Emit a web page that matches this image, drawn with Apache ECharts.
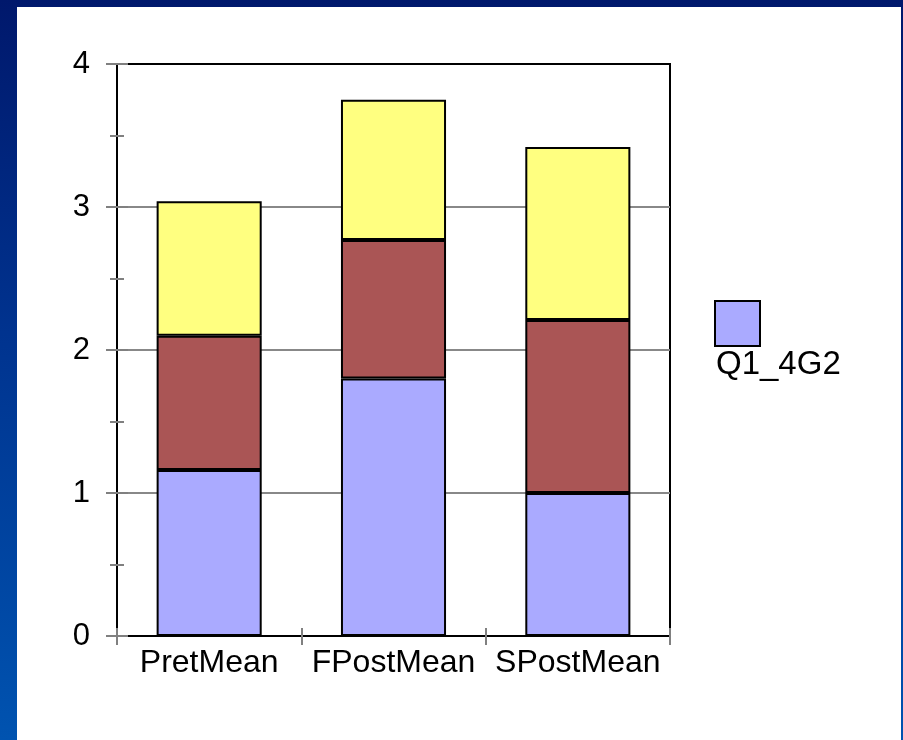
<!DOCTYPE html>
<html>
<head>
<meta charset="utf-8">
<script src="https://cdn.jsdelivr.net/npm/echarts@6/dist/echarts.min.js"></script>
<style>
html,body{margin:0;padding:0;}
body{width:903px;height:740px;background:linear-gradient(to bottom,#00186c 0%,#00338f 45%,#0053b0 100%);position:relative;overflow:hidden;}
#panel{position:absolute;left:17px;top:7px;width:884px;height:733px;background:#ffffff;}
#chart{position:absolute;left:0;top:0;width:903px;height:740px;}
</style>
</head>
<body>
<div id="panel"></div>
<div id="chart"></div>
<script>
const categories = ['PretMean', 'FPostMean', 'SPostMean'];
const seriesQ1 = [1.16, 1.80, 1.00];
const seriesB = [0.94, 0.97, 1.21];
const seriesC = [0.94, 0.98, 1.21];
const yTicks = [0, 1, 2, 3, 4];
const legendName = 'Q1_4G2';

const chart = echarts.init(document.getElementById('chart'), null, {renderer: 'canvas'});
const font = 'Liberation Sans, Arial, sans-serif';
const barStyle = (c) => ({color: c, borderColor: '#000000', borderWidth: 2});

chart.setOption({
  backgroundColor: 'transparent',
  animation: false,
  textStyle: {fontFamily: font},
  title: {
    text: legendName, left: 716, top: 348, padding: 0,
    textStyle: {fontFamily: font, fontSize: 33, fontWeight: 'normal', color: '#000000'}
  },
  legend: {
    data: [legendName], left: 714, top: 300, orient: 'vertical', padding: 0,
    itemWidth: 45, itemHeight: 45, icon: 'rect',
    formatter: () => '',
    selectedMode: false
  },
  grid: {left: 117, top: 64, width: 553, height: 572, show: true, borderColor: '#000000', borderWidth: 2, backgroundColor: 'transparent'},
  xAxis: [{
    type: 'category', data: categories, position: 'bottom',
    axisLine: {lineStyle: {color: '#000000', width: 2}},
    axisTick: {show: true, length: 9, lineStyle: {color: '#808080', width: 2}},
    axisLabel: {fontFamily: font, fontSize: 32, color: '#000000', margin: 11, interval: 0}
  }, {
    type: 'category', data: categories, position: 'bottom',
    axisLine: {show: false},
    axisTick: {show: true, inside: true, length: 8, lineStyle: {color: '#808080', width: 2}},
    axisLabel: {show: false}
  }],
  yAxis: [{
    type: 'value', min: yTicks[0], max: yTicks[yTicks.length - 1], interval: 1,
    axisLine: {show: true, lineStyle: {color: '#000000', width: 2}},
    axisTick: {show: true, length: 11, lineStyle: {color: '#808080', width: 2}},
    minorTick: {show: true, splitNumber: 2, length: 7, lineStyle: {color: '#808080', width: 2}},
    axisLabel: {fontFamily: font, fontSize: 31, color: '#000000', margin: 27},
    splitLine: {show: true, showMinLine: false, showMaxLine: false, lineStyle: {color: '#888888', width: 2}}
  }, {
    type: 'value', min: yTicks[0], max: yTicks[yTicks.length - 1], interval: 1, position: 'left',
    axisLine: {show: false},
    axisTick: {show: true, inside: true, length: 11, lineStyle: {color: '#808080', width: 2}},
    minorTick: {show: true, splitNumber: 2, length: 7, lineStyle: {color: '#808080', width: 2}},
    axisLabel: {show: false},
    splitLine: {show: false}
  }],
  series: [
    {name: legendName, type: 'bar', stack: 'total', data: seriesQ1, barWidth: '57%', itemStyle: barStyle('#aaaaff')},
    {name: 'Series2', type: 'bar', stack: 'total', data: seriesB, barWidth: '57%', itemStyle: barStyle('#aa5555')},
    {name: 'Series3', type: 'bar', stack: 'total', data: seriesC, barWidth: '57%', itemStyle: barStyle('#ffff80')}
  ]
});
</script>
</body>
</html>
